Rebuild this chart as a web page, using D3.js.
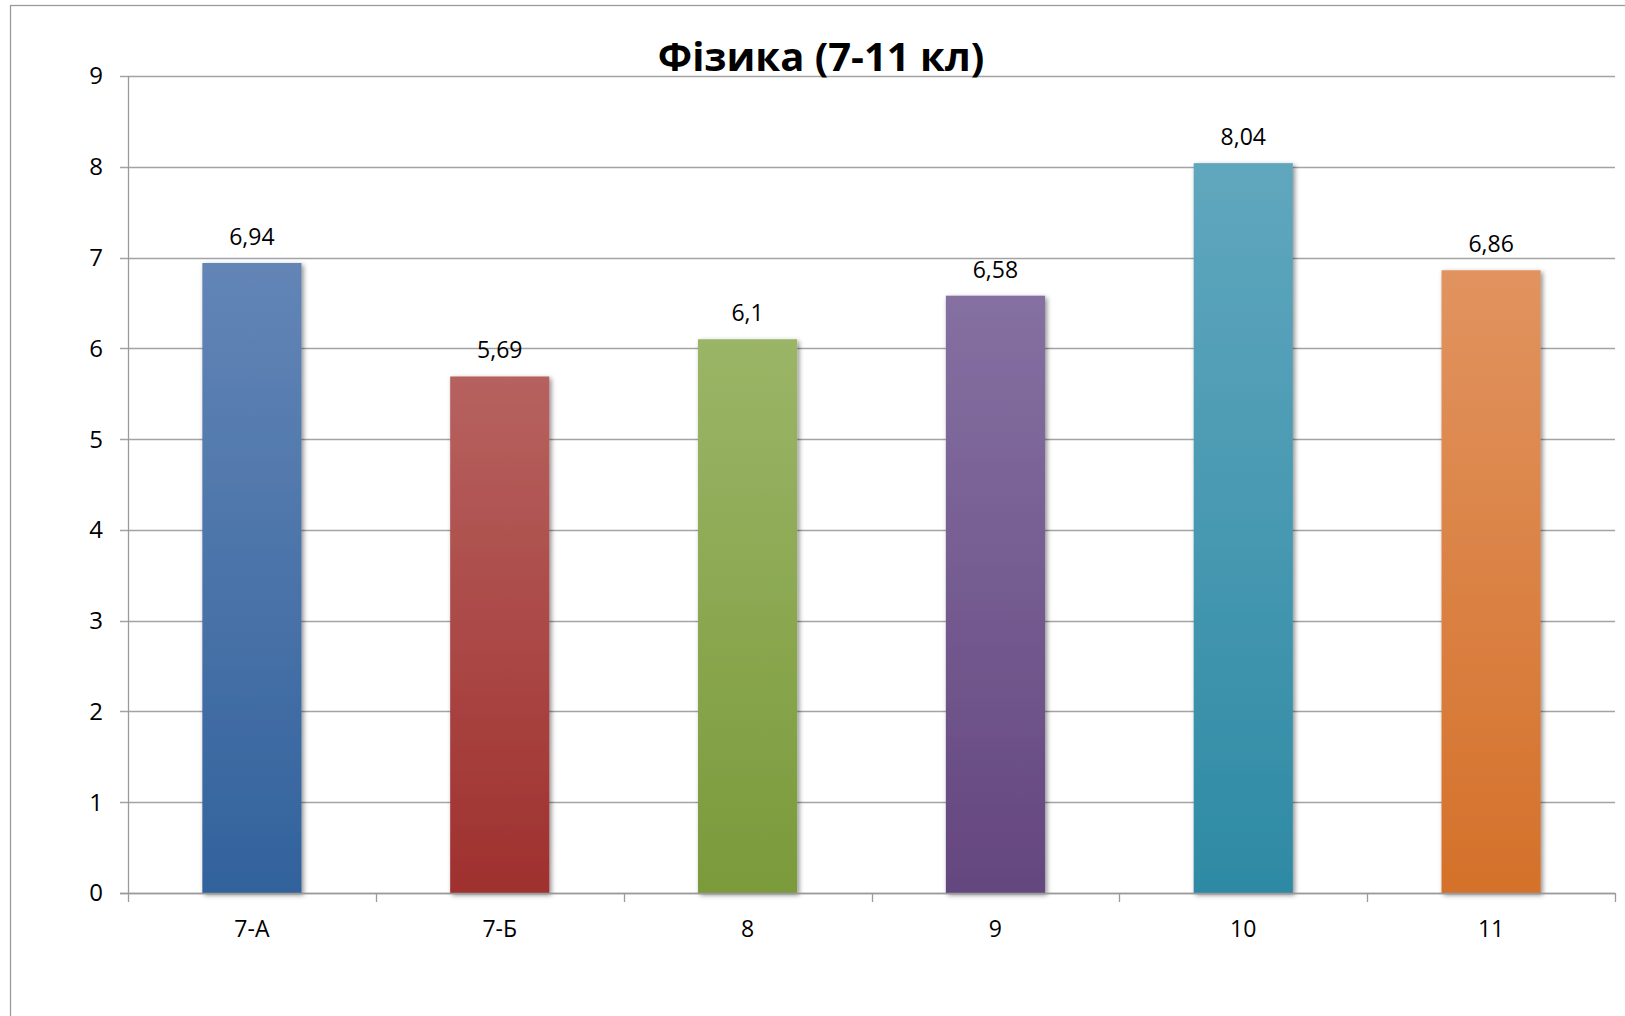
<!DOCTYPE html>
<html>
<head>
<meta charset="utf-8">
<script src="https://cdn.jsdelivr.net/npm/d3@7"></script>
<style>
  html, body { margin: 0; padding: 0; background: #fff; }
  svg { display: block; }
  text { font-family: "Open Sans", "DejaVu Sans", sans-serif; fill: #000; }
</style>
</head>
<body>
<svg id="chart" width="1625" height="1016"></svg>
<script>
const title = "Фізика (7-11 кл)";
const categories = ["7-А", "7-Б", "8", "9", "10", "11"];
const values = [6.94, 5.69, 6.1, 6.58, 8.04, 6.86];
const valueLabels = ["6,94", "5,69", "6,1", "6,58", "8,04", "6,86"];
const yTicks = [0, 1, 2, 3, 4, 5, 6, 7, 8, 9];
const colorsTop = ["#6385b6", "#b6625f", "#9bb567", "#8570a1", "#60a7be", "#e1935f"];
const colorsBottom = ["#32629c", "#9f302e", "#7a9a3a", "#64467f", "#2e8aa4", "#d4712a"];

const svg = d3.select("#chart");

// outer chart border (extends beyond the visible area right/bottom)
svg.append("rect")
  .attr("x", 10.5).attr("y", 5.5)
  .attr("width", 1700).attr("height", 1100)
  .attr("fill", "#fff").attr("stroke", "#9a9a9a").attr("stroke-width", 1.3);

const x = d3.scaleBand().domain(categories).range([128, 1615]).paddingInner(0.6).paddingOuter(0.3);
const xOuter = d3.scaleBand().domain(categories).range([128, 1615]).padding(0);
const y = d3.scaleLinear().domain([0, 9]).range([893, 76]);

const defs = svg.append("defs");
categories.forEach((c, i) => {
  const g = defs.append("linearGradient").attr("id", "grad" + i)
    .attr("x1", 0).attr("y1", 0).attr("x2", 0).attr("y2", 1);
  g.append("stop").attr("offset", "0%").attr("stop-color", colorsTop[i]);
  g.append("stop").attr("offset", "100%").attr("stop-color", colorsBottom[i]);
});
const f = defs.append("filter").attr("id", "shadow")
  .attr("x", "-20%").attr("y", "-5%").attr("width", "140%").attr("height", "110%");
f.append("feDropShadow").attr("dx", 2).attr("dy", 2).attr("stdDeviation", 2.5)
  .attr("flood-color", "#000").attr("flood-opacity", 0.45);

// gridlines
svg.append("g").selectAll("line").data(yTicks).join("line")
  .attr("x1", 120).attr("x2", 1615)
  .attr("y1", d => Math.round(y(d)) + 0.5).attr("y2", d => Math.round(y(d)) + 0.5)
  .attr("stroke", "#a3a3a3").attr("stroke-width", 1.3);

// y axis line
svg.append("line").attr("x1", 128.5).attr("x2", 128.5).attr("y1", y(9)).attr("y2", y(0))
  .attr("stroke", "#9a9a9a").attr("stroke-width", 1.3);

// y tick labels
svg.append("g").selectAll("text").data(yTicks).join("text")
  .attr("x", 103).attr("y", d => y(d)).attr("dy", "0.35em")
  .attr("text-anchor", "end").attr("font-size", 24)
  .text(d => d);

// x axis ticks at category boundaries
const bounds = categories.map(c => xOuter(c)).concat([1615]);
svg.append("g").selectAll("line").data(bounds).join("line")
  .attr("x1", d => Math.round(d) + 0.5).attr("x2", d => Math.round(d) + 0.5)
  .attr("y1", y(0)).attr("y2", y(0) + 9)
  .attr("stroke", "#9a9a9a").attr("stroke-width", 1.3);

// bars
svg.append("g").selectAll("rect").data(values).join("rect")
  .attr("x", (d, i) => x(categories[i]))
  .attr("width", x.bandwidth())
  .attr("y", d => y(d))
  .attr("height", d => y(0) - y(d))
  .attr("fill", (d, i) => `url(#grad${i})`)
  .attr("filter", "url(#shadow)");

// x axis line
svg.append("line").attr("x1", 120).attr("x2", 1615).attr("y1", Math.round(y(0)) + 0.5).attr("y2", Math.round(y(0)) + 0.5)
  .attr("stroke", "#9a9a9a").attr("stroke-width", 1.3);

// value labels
svg.append("g").selectAll("text").data(values).join("text")
  .attr("x", (d, i) => x(categories[i]) + x.bandwidth() / 2)
  .attr("y", d => y(d) - 18)
  .attr("text-anchor", "middle").attr("font-size", 23)
  .text((d, i) => valueLabels[i]);

// category labels
svg.append("g").selectAll("text").data(categories).join("text")
  .attr("x", c => xOuter(c) + xOuter.bandwidth() / 2)
  .attr("y", 937)
  .attr("text-anchor", "middle").attr("font-size", 23)
  .text(c => c);

// title
svg.append("text").attr("x", 821).attr("y", 71)
  .attr("text-anchor", "middle").attr("font-size", 40).attr("font-weight", "bold")
  .text(title);
</script>
</body>
</html>
